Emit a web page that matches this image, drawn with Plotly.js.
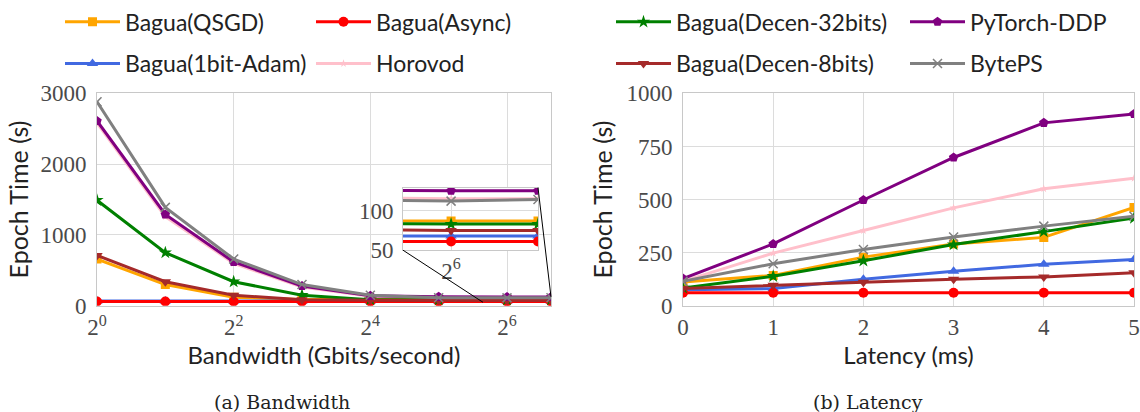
<!DOCTYPE html>
<html><head><meta charset="utf-8">
<script src="https://cdn.plot.ly/plotly-3.0.1.min.js"></script>
<style>html,body{margin:0;padding:0;background:#fff}</style>
</head><body>
<div id="chart" style="width:1140px;height:412px"></div>
<script>
// ---- data ----
const bandwidth = [1, 2, 4, 8, 16, 32, 64, 100];          // Gbits/second
const latency   = [0, 1, 2, 3, 4, 5];                      // ms

const seriesNames = ["Bagua(QSGD)", "Bagua(1bit-Adam)", "Bagua(Async)", "Horovod",
                     "Bagua(Decen-32bits)", "Bagua(Decen-8bits)", "PyTorch-DDP", "BytePS"];

const bwQSGD    = [660, 300, 120, 89, 87, 87, 87, 87];
const bw1bit    = [68, 68, 68, 68, 68, 68, 68, 68];
const bwAsync   = [61, 61, 61, 61, 61, 61, 61, 61];
const bwHorovod = [2580, 1260, 600, 265, 135, 117, 115, 115];
const bwDecen32 = [1490, 750, 340, 150, 86, 84, 83, 83];
const bwDecen8  = [710, 340, 150, 85, 78, 76, 75, 75];
const bwDDP     = [2610, 1290, 620, 280, 140, 126, 125, 125];
const bwBytePS  = [2880, 1390, 660, 300, 150, 114, 112, 114];

const latQSGD    = [112, 143, 229, 291, 322, 463];
const lat1bit    = [76, 81, 125, 162, 195, 218];
const latAsync   = [61, 61, 61, 61, 61, 61];
const latHorovod = [115, 248, 354, 461, 551, 600];
const latDecen32 = [84, 139, 212, 288, 349, 413];
const latDecen8  = [81, 97, 111, 125, 136, 156];
const latDDP     = [128, 291, 498, 698, 861, 903];
const latBytePS  = [115, 198, 265, 324, 375, 421];

const bwTickVals  = [1, 4, 16, 64];
const bwTickText  = ["2<sup>0</sup>", "2<sup>2</sup>", "2<sup>4</sup>", "2<sup>6</sup>"];
const insetTickVals = [64];
const insetTickText = ["2<sup>6</sup>"];

// ---- styles ----
const styles = [
  {color: "#FFA500", symbol: "square", size: 9},
  {color: "#4169E1", symbol: "triangle-up", size: 10},
  {color: "#FF0000", symbol: "circle", size: 10},
  {color: "#FFC0CB", symbol: "star", size: 6},
  {color: "#008000", symbol: "star", size: 10},
  {color: "#A52A2A", symbol: "triangle-down", size: 10},
  {color: "#800080", symbol: "pentagon", size: 10},
  {color: "#808080", symbol: "x-thin-open", size: 9}
];
const bwData  = [bwQSGD, bw1bit, bwAsync, bwHorovod, bwDecen32, bwDecen8, bwDDP, bwBytePS];
const latData = [latQSGD, lat1bit, latAsync, latHorovod, latDecen32, latDecen8, latDDP, latBytePS];

const legendIds = ["legend", "legend2", "legend3", "legend4", "legend5", "legend6", "legend7", "legend8"];

function mk(i, xs, ys, xa, ya, show) {
  const s = styles[i];
  const isX = s.symbol.indexOf("x-thin") === 0;
  return {
    type: "scatter", mode: "lines+markers", name: seriesNames[i],
    x: xs, y: ys, xaxis: xa, yaxis: ya,
    showlegend: show, legend: legendIds[i],
    line: {color: s.color, width: 3},
    marker: {color: s.color, symbol: s.symbol, size: s.size,
             line: {color: s.color, width: isX ? 1.5 : 0}}
  };
}

const traces = [];
for (let i = 0; i < 8; i++) traces.push(mk(i, bandwidth, bwData[i], "x", "y", true));
for (let i = 0; i < 8; i++) traces.push(mk(i, latency, latData[i], "x2", "y2", false));
for (let i = 0; i < 8; i++) traces.push(mk(i, bandwidth, bwData[i], "x3", "y3", false));

// ---- layout ----
const W = 1140, H = 412;
const px = v => v / W, py = v => 1 - v / H;

const tickFont = {family: "Liberation Serif, serif", size: 23, color: "#4a4a4a"};
const xTitleFont = {family: "Lato, sans-serif", size: 24, color: "#222"};
const yTitleFont = {family: "Lato, sans-serif", size: 25, color: "#222"};
const gridColor = "#dcdcdc", frameColor = "#c8c8c8";

function axisBase(extra) {
  return Object.assign({
    showgrid: true, gridcolor: gridColor, gridwidth: 1,
    zeroline: false, showline: true, mirror: true, linecolor: frameColor, linewidth: 1,
    ticks: "", tickfont: tickFont, automargin: false, ticklabelstandoff: 5
  }, extra);
}

const layout = {
  width: W, height: H,
  margin: {l: 0, r: 0, t: 0, b: 0},
  paper_bgcolor: "#fff", plot_bgcolor: "#fff",
  xaxis: axisBase({domain: [px(97), px(551)], anchor: "y", type: "log", range: [0, 2],
    tickvals: bwTickVals, ticktext: bwTickText, ticklabelstandoff: 1,
    title: {text: "Bandwidth (Gbits/second)", font: xTitleFont, standoff: 3}}),
  yaxis: axisBase({domain: [py(305), py(91)], anchor: "x", range: [0, 3000], dtick: 1000,
    title: {text: "Epoch Time (s)", font: yTitleFont, standoff: 4}}),
  xaxis2: axisBase({domain: [px(683), px(1134)], anchor: "y2", range: [0, 5], dtick: 1,
    ticklabelstandoff: 1,
    title: {text: "Latency (ms)", font: xTitleFont, standoff: 3}}),
  yaxis2: axisBase({domain: [py(305), py(91)], anchor: "x2", range: [0, 1000], dtick: 250,
    title: {text: "Epoch Time (s)", font: yTitleFont, standoff: 6}}),
  xaxis3: axisBase({domain: [px(403), px(538)], anchor: "y3", type: "log",
    range: [Math.log10(50), 2], tickvals: insetTickVals, ticktext: insetTickText, ticklabelstandoff: 0}),
  yaxis3: axisBase({domain: [py(249), py(186)], anchor: "x3", range: [50, 129],
    tickvals: [50, 100], ticklabelstandoff: 4}),
  shapes: [
    {type: "rect", xref: "x3 domain", yref: "y3 domain", x0: 0, x1: 1, y0: 0, y1: 1,
     fillcolor: "#fff", line: {width: 0}, layer: "below"},
    {type: "line", xref: "paper", yref: "paper", x0: px(403), y0: py(249), x1: px(483), y1: py(301.5),
     line: {color: "#000", width: 1}, layer: "above"},
    {type: "line", xref: "paper", yref: "paper", x0: px(538), y0: py(186), x1: px(551), y1: py(296),
     line: {color: "#000", width: 1}, layer: "above"}
  ],
  annotations: [
    {text: "(a) Bandwidth", xref: "paper", yref: "paper", x: px(282), y: py(402),
     xanchor: "center", yanchor: "middle",
     showarrow: false, font: {family: "DejaVu Serif, serif", size: 19, color: "#222"}},
    {text: "(b) Latency", xref: "paper", yref: "paper", x: px(868), y: py(402),
     xanchor: "center", yanchor: "middle",
     showarrow: false, font: {family: "DejaVu Serif, serif", size: 19, color: "#222"}}
  ]
};

// one legend per entry, laid out as 4 columns x 2 rows (matplotlib column-wise fill)
const colX = [60, 311, 611, 905];
const rowY = [19, 61];
for (let i = 0; i < 8; i++) {
  const col = Math.floor(i / 2), row = i % 2;
  layout[legendIds[i]] = {
    x: px(colX[col]), y: py(rowY[row]), xanchor: "left", yanchor: "middle",
    bgcolor: "rgba(0,0,0,0)", borderwidth: 0, itemwidth: 55,
    font: {family: "Lato, sans-serif", size: 23, color: "#222"}
  };
}

Plotly.newPlot("chart", traces, layout, {displayModeBar: false, staticPlot: true});
</script>
</body></html>
